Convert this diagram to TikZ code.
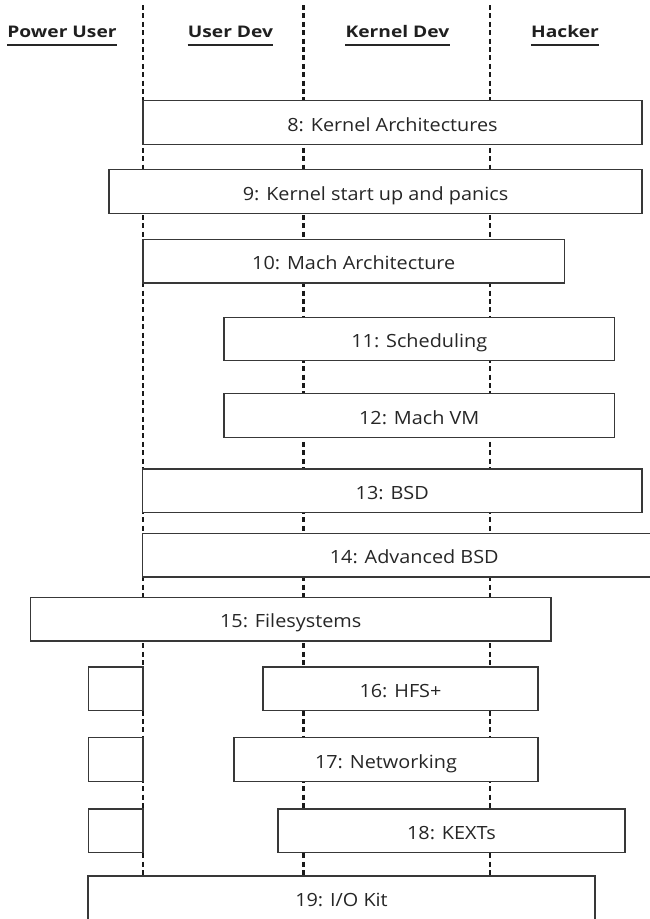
\documentclass[tikz,border=0pt]{standalone}
\usepackage{fontspec}
\setmainfont{Open Sans}
\newfontfamily\boxfont[FakeStretch=1.09]{Open Sans}
\newfontfamily\headfont[FakeStretch=1.2]{Open Sans}
\begin{document}
\begin{tikzpicture}[x=1pt,y=-1pt,
  lane/.style={line width=2.2pt, draw=black!90, dash pattern=on 5pt off 3.4pt},
  box/.style={draw=black!78, line width=1.2pt, fill=white, inner sep=0pt,
    minimum height=43.5pt, text=black!85, font=\boxfont\fontsize{18.2}{21}\selectfont,
    text height=17pt, text depth=0pt},
  head/.style={inner sep=0pt, anchor=base, text=black!88,
    font=\headfont\fontsize{16}{18}\selectfont\bfseries},
  uline/.style={line width=1.5pt, draw=black!85}]
\useasboundingbox (0,0) rectangle (650,919);
\clip (0,0) rectangle (650,919);

% column headers
\node[head] (h1) at (62,37.5) {Power User};
\node[head] (h2) at (230.5,37.5) {User Dev};
\node[head] (h3) at (397.5,37.5) {Kernel Dev};
\node[head] (h4) at (565,37.5) {Hacker};
\foreach \h in {h1,h2,h3,h4}
  \draw[uline] ([yshift=-7.6pt]\h.base west) -- ([yshift=-7.6pt]\h.base east);

% lane separators
\coordinate (s1) at (143,5);
\coordinate (s2) at (303.5,5);
\coordinate (s3) at (490,5);
\coordinate (bottom) at (0,876);
\foreach \s in {s1,s2,s3}
  \draw[lane] (\s) -- (\s |- bottom);

% chapters
\node[box, minimum width=499pt]   (b8)  at (392.5,122.5)  {8: Kernel Architectures};
\node[box, minimum width=533pt]   (b9)  at (375.5,191.5)  {9: Kernel start up and panics};
\node[box, minimum width=421.5pt] (b10) at (353.75,261.25) {10: Mach Architecture};
\node[box, minimum width=390.5pt] (b11) at (419.25,339)   {11: Scheduling};
\node[box, minimum width=390.5pt] (b12) at (419.25,415.5) {12: Mach VM};
\node[box, minimum width=499.5pt] (b13) at (392.25,490.75) {13: BSD};
\node[box, minimum width=543.5pt] (b14) at (414.25,555.25) {14: Advanced BSD};
\node[box, minimum width=520.5pt] (b15) at (290.75,619.25) {15: Filesystems};
\node[box, minimum width=54.5pt]  (p16) at (115.75,688.75) {};
\node[box, minimum width=275pt]   (b16) at (400.5,688.75)  {16: HFS+};
\node[box, minimum width=54.5pt]  (p17) at (115.75,759.5)  {};
\node[box, minimum width=304pt]   (b17) at (386,759.5)     {17: Networking};
\node[box, minimum width=54.5pt]  (p18) at (115.75,830.75) {};
\node[box, minimum width=347pt]   (b18) at (451.5,830.75)  {18: KEXTs};
\node[box, minimum width=507pt]   (b19) at (341.5,897.75)  {19: I/O Kit};
\end{tikzpicture}
\end{document}
